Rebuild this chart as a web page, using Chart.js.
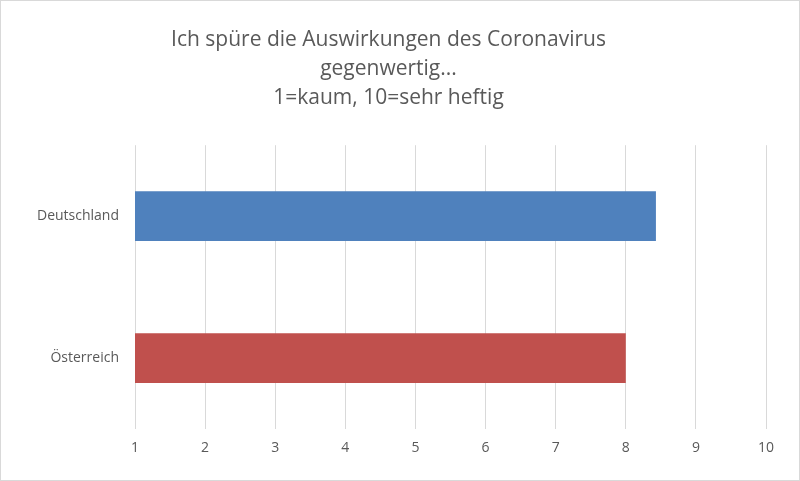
<!DOCTYPE html>
<html><head><meta charset="utf-8">
<script src="https://cdn.jsdelivr.net/npm/chart.js@4"></script>
<style>html,body{margin:0;padding:0;background:#fff}#w{width:798px;height:479px;border:1px solid #d9d9d9;position:relative}</style>
</head><body><div id="w"><canvas id="c"></canvas></div>
<script>
const categories=["Deutschland","Österreich"];
const values=[8.43,8.0];
const colors=["#4f81bd","#c0504d"];
const titleLines=["Ich spüre die Auswirkungen des Coronavirus","gegenwertig...","1=kaum, 10=sehr heftig"];
new Chart(document.getElementById('c'),{
type:'bar',
data:{labels:categories,datasets:[{data:values.map(v=>[1,v]),backgroundColor:colors,categoryPercentage:0.7,barPercentage:0.5}]},
options:{indexAxis:'y',responsive:true,maintainAspectRatio:false,animation:false,
layout:{padding:{left:10,right:33,top:16,bottom:14}},
plugins:{legend:{display:false},tooltip:{enabled:false},
title:{display:true,text:titleLines,color:'#595959',font:{family:'Open Sans',size:21,weight:'normal',lineHeight:1.4},padding:{top:8,bottom:32}}},
scales:{
x:{min:1,max:10,ticks:{stepSize:1,color:'#595959',font:{family:'Open Sans',size:14},padding:10},grid:{color:'#d9d9d9',drawTicks:false},border:{display:false}},
y:{afterFit:a=>{a.width=124;},ticks:{color:'#595959',font:{family:'Open Sans',size:14},padding:8},grid:{display:false},border:{display:false}}
}}});
</script></body></html>
